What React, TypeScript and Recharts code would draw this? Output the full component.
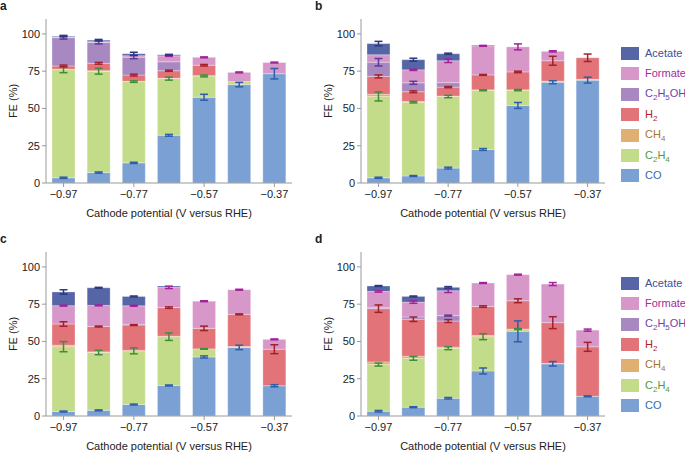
import React from "react";
import { BarChart, Bar, XAxis, YAxis, ErrorBar } from "recharts";

// cathode potential (V vs RHE), one bar per value
const potentials = ["\u22120.97", "\u22120.87", "\u22120.77", "\u22120.67", "\u22120.57", "\u22120.47", "\u22120.37"];

// stacking order, bottom to top
const products = ["CO", "C2H4", "CH4", "H2", "C2H5OH", "Formate", "Acetate"];

// panel a
const aCO = [3.5, 7, 13.5, 32, 57.5, 66, 73.3];
const aC2H4 = [72.5, 68, 54.5, 38, 14.3, 2, 0];
const aCH4 = [0.3, 0.3, 0.2, 0.3, 0.2, 0, 0];
const aH2 = [2.2, 5, 4.2, 5, 7, 0, 0];
const aC2H5OH = [19, 14, 12, 6, 0, 0, 0];
const aFormate = [0.5, 0.5, 1, 4, 5.3, 6.2, 7.5];
const aAcetate = [0.5, 1, 1.3, 0.7, 0, 0, 0];
const aCOErr = [0.4, 0.4, 0.4, 0.6, 2, 1.5, 3.5];
const aC2H4Err = [2, 2, 0.5, 1, 0.6, 0, 0];
const aH2Err = [0.6, 0.6, 0.6, 0.4, 0.5, 0, 0];
const aC2H5OHErr = [1, 1, 1, 0, 0, 0, 0];
const aFormateErr = [0, 0, 0, 0.4, 0.3, 0.3, 0.3];
const aAcetateErr = [0.5, 0.5, 1, 0.3, 0, 0, 0];

// panel b
const bCO = [3.5, 4.7, 10, 22.5, 52, 67.6, 69];
const bC2H4 = [54.5, 49.5, 48, 39.7, 10.3, 0.7, 0.5];
const bCH4 = [1.5, 0.5, 0.3, 0.3, 0.2, 0, 0];
const bH2 = [12, 6.5, 6, 10, 12, 13.7, 14.5];
const bC2H5OH = [9.5, 6, 3, 0, 0, 0, 0];
const bFormate = [5, 8.7, 14.7, 19.5, 16.8, 6.3, 0];
const bAcetate = [7.5, 6.8, 4.7, 0.5, 0, 0, 0];
const bCOErr = [0.4, 0.3, 0.6, 0.6, 2, 1, 2];
const bC2H4Err = [3, 0.5, 0.8, 0.3, 0.4, 0, 0];
const bH2Err = [1, 0.6, 0.4, 0.3, 0.5, 3, 2.5];
const bC2H5OHErr = [2.5, 1, 0, 0, 0, 0, 0];
const bFormateErr = [0, 0.4, 1.2, 0.3, 2, 0.4, 0];
const bAcetateErr = [1.5, 1, 0.4, 0, 0, 0, 0];

// panel c
const cCO = [3, 3.8, 7.7, 20.5, 39.6, 46, 20.3];
const cC2H4 = [43.5, 38.8, 36, 32.7, 5.4, 0.6, 0];
const cCH4 = [1, 0.4, 0.3, 0.3, 0, 0, 0];
const cH2 = [14.2, 17, 17, 19.2, 13.8, 21.6, 24.5];
const cC2H5OH = [0, 0, 0.5, 0, 0, 0, 0];
const cFormate = [12.3, 14.2, 12.4, 13.6, 18.2, 16.5, 6.6];
const cAcetate = [9.2, 11.8, 6.3, 0.9, 0, 0, 0];
const cCOErr = [0.3, 0.3, 0.3, 0.3, 0.7, 1.5, 0.7];
const cC2H4Err = [3.4, 1.5, 2, 2.5, 0.2, 0, 0];
const cH2Err = [1.5, 0.3, 0.3, 0.5, 1.5, 0.3, 3];
const cC2H5OHErr = [0, 0, 0, 0, 0, 0, 0];
const cFormateErr = [0.3, 0.3, 0.3, 0.8, 0.3, 0.3, 0.3];
const cAcetateErr = [1.5, 0.3, 0.3, 0, 0, 0, 0];

// panel d
const dCO = [3.2, 5.9, 11.9, 30.2, 56.8, 35, 13.2];
const dC2H4 = [31.3, 32.8, 33.6, 23, 1.5, 0.3, 0];
const dCH4 = [1.8, 1.4, 0.7, 0.8, 0, 0, 0];
const dH2 = [35.7, 24.8, 17.5, 19.4, 19, 27.3, 33.2];
const dC2H5OH = [0.6, 1.5, 3.6, 0, 0, 0, 0];
const dFormate = [11, 10, 16.7, 15.8, 17.5, 25.9, 11.2];
const dAcetate = [3.6, 3.8, 2.3, 0, 0, 0, 0];
const dCOErr = [0.5, 0.3, 0.5, 2, 7, 1.5, 0.3];
const dC2H4Err = [1, 1.3, 1, 2, 0.3, 0, 0];
const dH2Err = [2.5, 1.5, 1, 0.5, 1.3, 4, 3];
const dC2H5OHErr = [0, 0, 0.3, 0, 0, 0, 0];
const dFormateErr = [0.5, 0.8, 1.2, 0.3, 0.3, 1, 0.7];
const dAcetateErr = [0.3, 0.3, 0.5, 0, 0, 0, 0];

const noErr = [0, 0, 0, 0, 0, 0, 0];

const yTicks = [0, 25, 50, 75, 100];

const fills = ["#7ba0d3", "#c3dc89", "#e0b072", "#e27479", "#a888c1", "#d797c9", "#5565a6"];
const errColors = ["#2f5ea8", "#3f8e3a", "#b07020", "#a3212b", "#5b3c9c", "#a2219c", "#2b3a82"];
const textColors = ["#3a68ae", "#4e9a3a", "#a8742e", "#b5222c", "#6b44a8", "#a52a9b", "#3f4e94"];
const boxColor = "#9a9a9a";
const ink = "#222";

function buildRows(values: number[][], errors: number[][]) {
  return potentials.map((p, i) => {
    const row: Record<string, string | number> = { p };
    products.forEach((k, j) => {
      row[k] = values[j][i];
      row[k + "_e"] = errors[j][i];
    });
    return row;
  });
}

const rowsA = buildRows(
  [aCO, aC2H4, aCH4, aH2, aC2H5OH, aFormate, aAcetate],
  [aCOErr, aC2H4Err, noErr, aH2Err, aC2H5OHErr, aFormateErr, aAcetateErr]
);
const rowsB = buildRows(
  [bCO, bC2H4, bCH4, bH2, bC2H5OH, bFormate, bAcetate],
  [bCOErr, bC2H4Err, noErr, bH2Err, bC2H5OHErr, bFormateErr, bAcetateErr]
);
const rowsC = buildRows(
  [cCO, cC2H4, cCH4, cH2, cC2H5OH, cFormate, cAcetate],
  [cCOErr, cC2H4Err, noErr, cH2Err, cC2H5OHErr, cFormateErr, cAcetateErr]
);
const rowsD = buildRows(
  [dCO, dC2H4, dCH4, dH2, dC2H5OH, dFormate, dAcetate],
  [dCOErr, dC2H4Err, noErr, dH2Err, dC2H5OHErr, dFormateErr, dAcetateErr]
);

// digits become subscripts (C2H5OH -> C₂H₅OH)
function chem(name: string) {
  return name.split(/(\d)/).map((part, i) =>
    /\d/.test(part) ? (
      <span key={i} style={{ fontSize: 8, position: "relative", top: 3 }}>
        {part}
      </span>
    ) : (
      <span key={i}>{part}</span>
    )
  );
}

function Legend({ top }: { top: number }) {
  const order = products.map((_, j) => j).reverse();
  return (
    <>
      {order.map((j, n) => (
        <div
          key={products[j]}
          style={{ position: "absolute", left: 621, top: top + n * 20.4, height: 13, display: "flex", alignItems: "center" }}
        >
          <div style={{ width: 18, height: 13, background: fills[j] }} />
          <div style={{ marginLeft: 6, fontSize: 11, color: textColors[j], whiteSpace: "nowrap", lineHeight: "13px" }}>
            {chem(products[j])}
          </div>
        </div>
      ))}
    </>
  );
}

function Panel({
  rows,
  left,
  top,
  right,
  letter,
}: {
  rows: Record<string, string | number>[];
  left: number;
  top: number;
  right: number;
  letter: string;
}) {
  return (
    <>
      <div style={{ position: "absolute", left, top, fontSize: 12, fontWeight: "bold", lineHeight: "12px" }}>
        {letter}
      </div>
      <div style={{ position: "absolute", left, top }}>
        <BarChart width={300} height={219} data={rows} margin={{ top: 19, right, bottom: 0, left: 0 }} barSize={23}>
          <XAxis
            dataKey="p"
            interval={1}
            tickSize={4}
            tickMargin={3}
            stroke={boxColor}
            tick={{ fontSize: 11, fill: ink }}
            height={36}
            label={{ value: "Cathode potential (V versus RHE)", position: "insideBottom", offset: 2, fontSize: 11, fill: ink }}
          />
          <XAxis xAxisId="top" dataKey="p" orientation="top" height={0} tick={false} tickLine={false} stroke={boxColor} />
          <YAxis
            domain={[0, 110]}
            ticks={yTicks}
            width={46}
            tickSize={4}
            stroke={boxColor}
            tick={{ fontSize: 11, fill: ink }}
            label={{ value: "FE (%)", angle: -90, position: "insideLeft", offset: 13, style: { textAnchor: "middle" }, fontSize: 11, fill: ink }}
          />
          <YAxis yAxisId="right" orientation="right" width={0} domain={[0, 110]} tick={false} tickLine={false} stroke={boxColor} />
          {products.map((k, j) => (
            <Bar
              key={k}
              dataKey={k}
              stackId="s"
              fill={fills[j]}
              stroke="rgba(255,255,255,0.3)"
              strokeWidth={1}
              isAnimationActive={false}
            >
              <ErrorBar dataKey={k + "_e"} width={4} stroke={errColors[j]} strokeWidth={1.5} direction="y" />
            </Bar>
          ))}
        </BarChart>
      </div>
    </>
  );
}

export default function App() {
  return (
    <div
      style={{
        position: "absolute",
        left: 0,
        top: 0,
        width: 685,
        height: 452,
        background: "#fff",
        fontFamily: "'Liberation Sans', Arial, sans-serif",
        color: ink,
      }}
    >
      <Panel rows={rowsA} left={0} top={0} right={8} letter="a" />
      <Panel rows={rowsB} left={315} top={0} right={10} letter="b" />
      <Panel rows={rowsC} left={0} top={233} right={8} letter="c" />
      <Panel rows={rowsD} left={315} top={233} right={10} letter="d" />
      <Legend top={47} />
      <Legend top={277} />
    </div>
  );
}
